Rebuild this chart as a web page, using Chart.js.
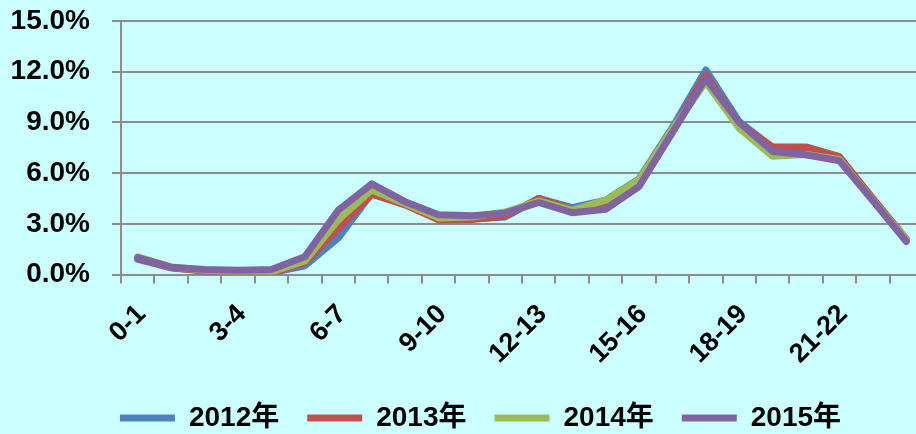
<!DOCTYPE html>
<html>
<head>
<meta charset="utf-8">
<script src="https://cdn.jsdelivr.net/npm/chart.js@4/dist/chart.umd.min.js"></script>
<style>
  html, body { margin: 0; padding: 0; overflow: hidden; background: #CCFFFF; width: 916px; height: 434px; }
  #wrap { position: absolute; left: 0; top: 0; width: 923px; height: 442px; }
</style>
</head>
<body>
<div id="wrap"><canvas id="c"></canvas></div>
<script>
const hours = ['0-1','1-2','2-3','3-4','4-5','5-6','6-7','7-8','8-9','9-10','10-11','11-12',
               '12-13','13-14','14-15','15-16','16-17','17-18','18-19','19-20','20-21','21-22','22-23','23-24'];
const seriesNames = ['2012年','2013年','2014年','2015年'];
const s2012 = [0.90,0.40,0.20,0.10,0.10,0.52,2.15,4.80,4.20,3.40,3.30,3.40,4.50,3.95,4.40,5.65,8.70,12.10,9.05,7.50,7.25,6.90,4.45,2.00];
const s2013 = [0.95,0.40,0.20,0.10,0.10,0.70,2.70,4.75,4.12,3.23,3.25,3.45,4.50,3.85,4.10,5.40,8.50,11.80,8.95,7.55,7.55,6.97,4.50,2.10];
const s2014 = [1.05,0.45,0.25,0.15,0.15,0.80,3.23,5.00,4.20,3.35,3.40,3.70,4.35,3.80,4.40,5.60,8.60,11.40,8.65,7.00,7.10,6.80,4.40,2.05];
const s2015 = [1.00,0.43,0.30,0.25,0.30,1.05,3.80,5.36,4.31,3.53,3.47,3.63,4.26,3.66,3.86,5.20,8.40,11.60,9.00,7.28,7.08,6.73,4.37,1.95];
const yTicks = [0, 3, 6, 9, 12, 15];
const colors = ['#4F81BD', '#C0504D', '#9BBB59', '#8064A2'];

const FONT = '"Liberation Sans", "Noto Sans CJK SC", sans-serif';
const GRID = '#8c8c8c';
const allSeries = [s2012, s2013, s2014, s2015];

const datasets = allSeries.map((d, i) => ({
  label: seriesNames[i],
  data: d,
  borderColor: colors[i],
  backgroundColor: colors[i],
  borderWidth: 7,
  pointRadius: 0,
  tension: 0,
  fill: false,
  borderJoinStyle: 'round',
  borderCapStyle: 'round',
  order: 4 - i
}));

const legendShift = {
  id: 'legendShift',
  afterLayout(chart) {
    if (chart.legend) { chart.legend.left += 14; chart.legend.right += 14; }
  }
};

new Chart(document.getElementById('c'), {
  type: 'line',
  data: { labels: hours, datasets },
  plugins: [legendShift],
  options: {
    responsive: true,
    maintainAspectRatio: false,
    animation: false,
    layout: { padding: { left: 10, top: 21, right: 0, bottom: 0 } },
    plugins: {
      tooltip: { enabled: false },
      legend: {
        position: 'bottom',
        labels: {
          boxWidth: 55,
          boxHeight: 7,
          padding: 28,
          color: '#000',
          font: { family: FONT, size: 28, weight: 'bold' },
          useBorderRadius: true,
          borderRadius: 3,
          generateLabels: (chart) => chart.data.datasets.map((ds, i) => ({
            text: ds.label,
            fillStyle: ds.borderColor,
            strokeStyle: ds.borderColor,
            lineWidth: 0,
            hidden: false,
            datasetIndex: i,
            fontColor: '#000'
          }))
        }
      }
    },
    scales: {
      x: {
        offset: true,
        afterFit: (s) => { s.height = 101.5; s.paddingLeft = 0; s.paddingRight = 0; },
        grid: { display: true, offset: true, drawOnChartArea: false, drawTicks: true, tickLength: 9, color: GRID, lineWidth: 2 },
        border: { display: true, color: GRID, width: 2 },
        ticks: {
          autoSkip: false,
          minRotation: 45,
          maxRotation: 45,
          padding: 15,
          labelOffset: 4,
          color: '#000',
          font: { family: FONT, size: 27, weight: 'bold' },
          callback: function(v, i) { return i % 3 === 0 ? hours[i] : ''; }
        }
      },
      y: {
        min: 0,
        max: 15,
        afterFit: (s) => { s.width = 111; s.paddingTop = 0; s.paddingBottom = 0; },
        afterBuildTicks: (s) => { s.ticks = yTicks.map(v => ({ value: v })); },
        grid: { color: GRID, lineWidth: 2, drawTicks: true, tickLength: 9 },
        border: { display: true, color: GRID, width: 2 },
        ticks: {
          padding: 22,
          color: '#000',
          font: { family: FONT, size: 28, weight: 'bold' },
          callback: (v) => v.toFixed(1) + '%'
        }
      }
    }
  }
});
</script>
</body>
</html>
